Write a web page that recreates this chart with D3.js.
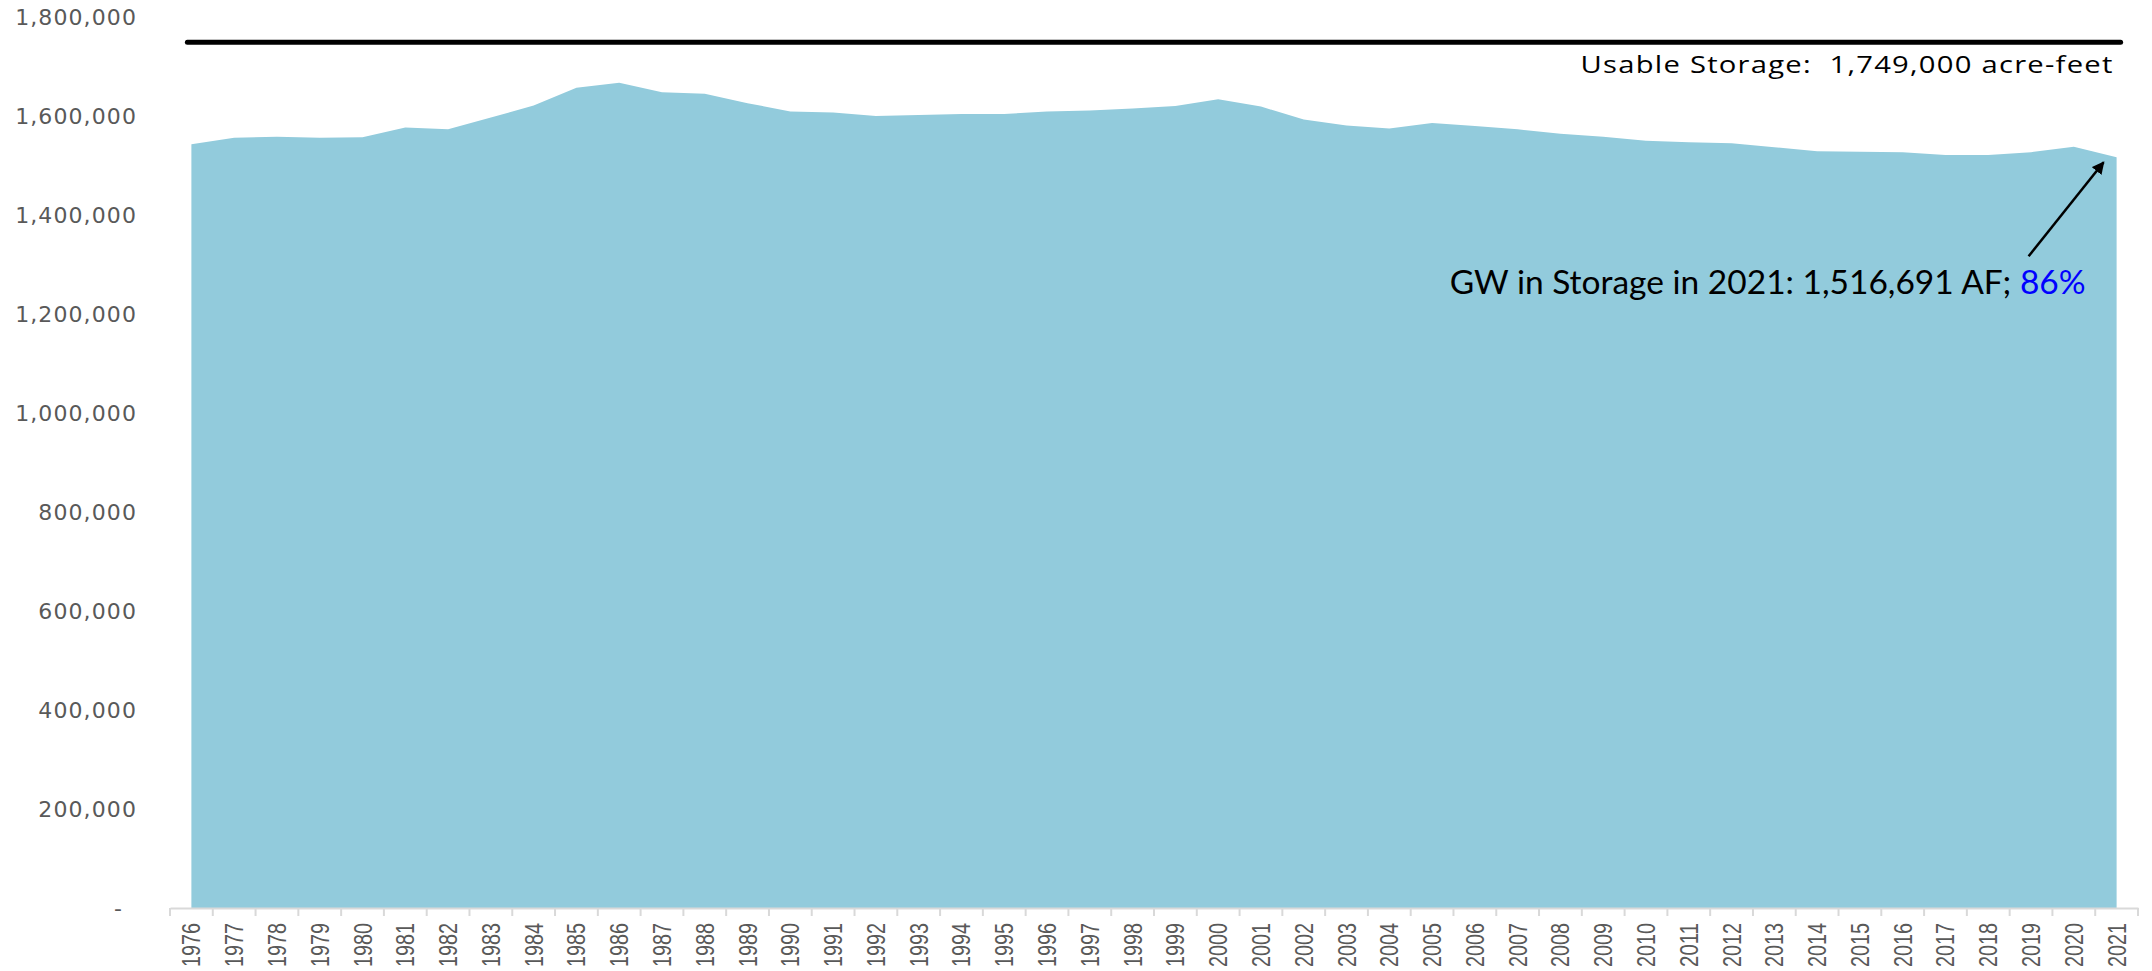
<!DOCTYPE html>
<html>
<head>
<meta charset="utf-8">
<script src="https://cdn.jsdelivr.net/npm/d3@7.9.0/dist/d3.min.js"></script>
<style>
  html, body { margin: 0; padding: 0; background: #fff; }
  svg { display: block; }
</style>
</head>
<body>
<svg id="chart" width="2152" height="971"></svg>
<script>
// groundwater in storage, acre-feet
const years = [1976, 1977, 1978, 1979, 1980, 1981, 1982, 1983, 1984, 1985,
  1986, 1987, 1988, 1989, 1990, 1991, 1992, 1993, 1994, 1995,
  1996, 1997, 1998, 1999, 2000, 2001, 2002, 2003, 2004, 2005,
  2006, 2007, 2008, 2009, 2010, 2011, 2012, 2013, 2014, 2015,
  2016, 2017, 2018, 2019, 2020, 2021];
const storage = [1543000, 1556000, 1558000, 1556000, 1557000, 1577000, 1573000, 1597000, 1621000, 1657000,
  1667000, 1648000, 1645000, 1626000, 1609000, 1607000, 1600000, 1602000, 1604000, 1604000,
  1609000, 1611000, 1615000, 1620000, 1634000, 1619000, 1593000, 1581000, 1575000, 1586000,
  1580000, 1573000, 1564000, 1558000, 1550000, 1547000, 1545000, 1537000, 1529000, 1528000,
  1527000, 1521000, 1521000, 1527000, 1538000, 1516691];
const yTicks = [0, 200000, 400000, 600000, 800000, 1000000, 1200000, 1400000, 1600000, 1800000];
const usableStorage = 1749000;
const usableLabel = "Usable Storage:  1,749,000 acre-feet";
const noteText = "GW in Storage in 2021: 1,516,691 AF; ";
const notePct = "86%";

const svg = d3.select("#chart");

const x = d3.scaleBand()
    .domain(years)
    .range([170, 2138])
    .padding(0);

const y = d3.scaleLinear()
    .domain([0, 1800000])
    .range([908, 17]);

const cx = d => x(d) + x.bandwidth() / 2;

// area
const area = d3.area()
    .x((d, i) => cx(years[i]))
    .y0(y(0))
    .y1(d => y(d));

svg.append("path")
    .datum(storage)
    .attr("d", area)
    .attr("fill", "#92cbdc");

// y axis labels (no line)
const yAxis = svg.append("g")
    .attr("transform", "translate(137,0)")
    .call(d3.axisLeft(y)
        .tickValues(yTicks)
        .tickSize(0)
        .tickPadding(0)
        .tickFormat(d => d === 0 ? "-" : d3.format(",")(d)));
yAxis.select(".domain").remove();
yAxis.selectAll("text")
    .attr("fill", "#595959")
    .style("font-family", "'DejaVu Sans', Verdana, sans-serif")
    .style("font-size", "22px")
    .style("letter-spacing", "1.1px");
// accounting style dash sits a little in from the right edge
yAxis.selectAll("text").filter(d => d === 0).attr("x", -14);

// x axis
const xAxis = svg.append("g")
    .attr("transform", `translate(0,${y(0)})`)
    .call(d3.axisBottom(x).tickSize(0));
xAxis.select(".domain")
    .attr("stroke", "#d9d9d9")
    .attr("stroke-width", 2);
xAxis.selectAll("text")
    .attr("transform", "rotate(-90)")
    .attr("x", -15)
    .attr("y", 0)
    .attr("dy", "0.36em")
    .attr("textLength", 44)
    .attr("lengthAdjust", "spacingAndGlyphs")
    .style("text-anchor", "end")
    .attr("fill", "#595959")
    .style("font-family", "'Liberation Sans', Arial, sans-serif")
    .style("font-size", "25px");

// tick marks sit on the band edges
const edges = years.map(d => x(d)).concat([x(years[years.length - 1]) + x.bandwidth()]);
xAxis.selectAll("line.edge")
    .data(edges)
    .join("line")
    .attr("class", "edge")
    .attr("x1", d => d).attr("x2", d => d)
    .attr("y1", 0).attr("y2", 8)
    .attr("stroke", "#d9d9d9")
    .attr("stroke-width", 2);

// usable storage line
const lastYear = years[years.length - 1];
svg.append("line")
    .attr("x1", cx(years[0]) - 4)
    .attr("x2", cx(lastYear) + 4)
    .attr("y1", y(usableStorage))
    .attr("y2", y(usableStorage))
    .attr("stroke", "#000")
    .attr("stroke-width", 5)
    .attr("stroke-linecap", "round");

svg.append("text")
    .attr("x", cx(lastYear) - 3)
    .attr("y", y(usableStorage) + 31)
    .attr("text-anchor", "end")
    .attr("fill", "#000")
    .attr("textLength", 533)
    .attr("lengthAdjust", "spacingAndGlyphs")
    .style("font-family", "'Open Sans', sans-serif")
    .style("font-size", "23.5px")
    .style("letter-spacing", "1px")
    .style("white-space", "pre")
    .text(usableLabel);

// annotation for the last year
const lastVal = storage[storage.length - 1];
const tipX = cx(lastYear) - 13, tipY = y(lastVal) + 5;

svg.append("defs").append("marker")
    .attr("id", "arrow")
    .attr("viewBox", "0 0 10 10")
    .attr("refX", 9).attr("refY", 5)
    .attr("markerWidth", 5).attr("markerHeight", 5)
    .attr("orient", "auto")
    .append("path")
    .attr("d", "M0,0 L10,5 L0,10 z")
    .attr("fill", "#000");

svg.append("line")
    .attr("x1", tipX - 75)
    .attr("y1", tipY + 94)
    .attr("x2", tipX)
    .attr("y2", tipY)
    .attr("stroke", "#000")
    .attr("stroke-width", 2.5)
    .attr("marker-end", "url(#arrow)");

const note = svg.append("text")
    .attr("x", cx(lastYear) - 31)
    .attr("y", y(lastVal) + 137)
    .attr("text-anchor", "end")
    .style("font-family", "Lato, 'Open Sans', sans-serif")
    .style("font-size", "33.5px");
note.append("tspan").attr("fill", "#000").text(noteText);
note.append("tspan").attr("fill", "#0000ff").text(notePct);
</script>
</body>
</html>
